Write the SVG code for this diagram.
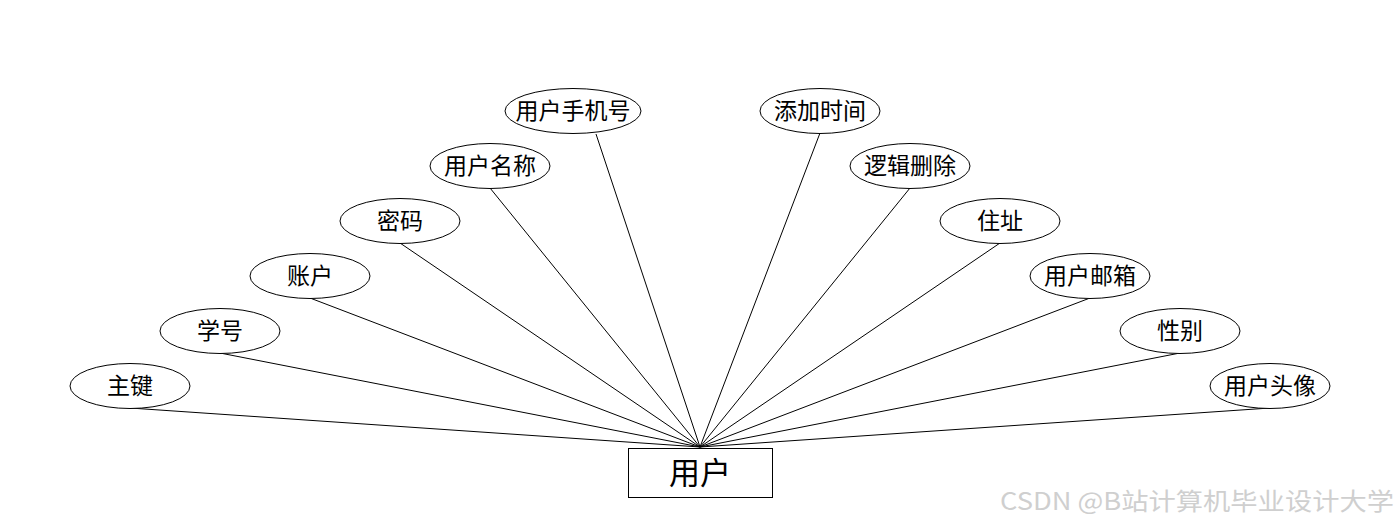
<svg xmlns="http://www.w3.org/2000/svg" width="1400" height="528" viewBox="0 0 1400 528">
<style>
.e{fill:#fff;stroke:#000;stroke-width:1}
.t{font-family:"Microsoft YaHei","Noto Sans CJK SC",sans-serif;font-size:23px;fill:#000;text-anchor:middle}
.c line{stroke:#000;stroke-width:1}
</style>
<rect width="1400" height="528" fill="#fff"/>
<g class="c" id="connectors">
<line x1="130" y1="408" x2="700" y2="447"/>
<line x1="220" y1="353" x2="700" y2="447"/>
<line x1="310" y1="298" x2="700" y2="447"/>
<line x1="400" y1="243" x2="700" y2="447"/>
<line x1="490" y1="188" x2="700" y2="447"/>
<line x1="596" y1="134" x2="700" y2="447"/>
<line x1="820" y1="133" x2="700" y2="447"/>
<line x1="910" y1="188" x2="700" y2="447"/>
<line x1="1000" y1="243" x2="700" y2="447"/>
<line x1="1090" y1="298" x2="700" y2="447"/>
<line x1="1180" y1="353" x2="700" y2="447"/>
<line x1="1270" y1="408" x2="700" y2="447"/>
</g>
<g id="n1"><ellipse class="e" cx="130" cy="386" rx="60" ry="22.5"/><text class="t" x="130" y="394">主键</text></g>
<g id="n2"><ellipse class="e" cx="220" cy="331" rx="60" ry="22.5"/><text class="t" x="220" y="339">学号</text></g>
<g id="n3"><ellipse class="e" cx="310" cy="276" rx="60" ry="22.5"/><text class="t" x="310" y="284">账户</text></g>
<g id="n4"><ellipse class="e" cx="400" cy="221" rx="60" ry="22.5"/><text class="t" x="400" y="229">密码</text></g>
<g id="n5"><ellipse class="e" cx="490" cy="166" rx="60" ry="22.5"/><text class="t" x="490" y="174">用户名称</text></g>
<g id="n6"><ellipse class="e" cx="573" cy="111" rx="68" ry="22.5"/><text class="t" x="573" y="119">用户手机号</text></g>
<g id="n7"><ellipse class="e" cx="820" cy="111" rx="60" ry="22.5"/><text class="t" x="820" y="119">添加时间</text></g>
<g id="n8"><ellipse class="e" cx="910" cy="166" rx="60" ry="22.5"/><text class="t" x="910" y="174">逻辑删除</text></g>
<g id="n9"><ellipse class="e" cx="1000" cy="221" rx="60" ry="22.5"/><text class="t" x="1000" y="229">住址</text></g>
<g id="n10"><ellipse class="e" cx="1090" cy="276" rx="60" ry="22.5"/><text class="t" x="1090" y="284">用户邮箱</text></g>
<g id="n11"><ellipse class="e" cx="1180" cy="331" rx="60" ry="22.5"/><text class="t" x="1180" y="339">性别</text></g>
<g id="n12"><ellipse class="e" cx="1270" cy="386" rx="60" ry="22.5"/><text class="t" x="1270" y="394">用户头像</text></g>
<g id="user"><rect x="628.5" y="448.5" width="144" height="49" fill="#fff" stroke="#000" stroke-width="1"/><text class="t" x="700" y="484" style="font-size:31px">用户</text></g>
<text x="1000" y="510" textLength="394" lengthAdjust="spacingAndGlyphs" style="font-family:'Noto Sans CJK SC',sans-serif;font-size:24px;fill:#cfcfcf">CSDN @B站计算机毕业设计大学</text>
</svg>
